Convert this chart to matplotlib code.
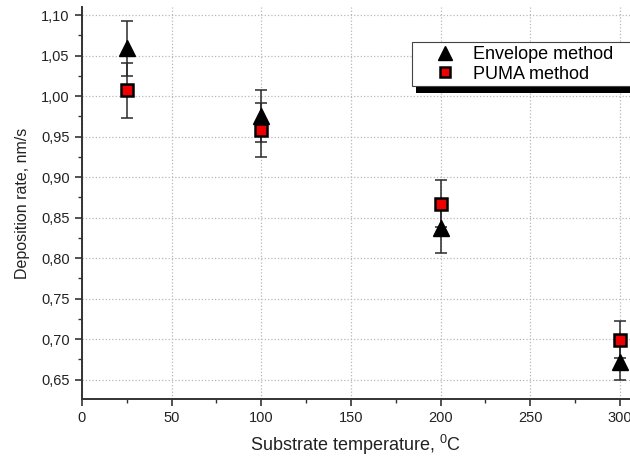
"""Deposition rate vs substrate temperature, envelope vs PUMA method."""

import matplotlib
matplotlib.use('Agg')
import matplotlib.pyplot as plt
from matplotlib.patches import Rectangle
from matplotlib.ticker import MultipleLocator, FuncFormatter

# data
temps = [25, 100, 200, 300]
envelope_rate = [1.059, 0.975, 0.837, 0.672]
envelope_err = [0.034, 0.032, 0.031, 0.023]
puma_rate = [1.007, 0.958, 0.867, 0.699]
puma_err = [0.034, 0.033, 0.029, 0.023]

plt.rcParams['font.family'] = ['Liberation Sans', 'DejaVu Sans']
plt.rcParams['mathtext.fontset'] = 'custom'
plt.rcParams['mathtext.rm'] = 'Liberation Sans'

W, H = 630, 457
fig = plt.figure(figsize=(W / 100, H / 100), dpi=100)
ax = fig.add_axes([82 / W, 1 - 399 / H, 1 - 82 / W, (399 - 7) / H])

axis_col = '#333333'
bar_col = '#2a2a2a'

ax.errorbar(temps, envelope_rate, yerr=envelope_err, fmt='none',
            ecolor=bar_col, elinewidth=1.1, capsize=4.5, capthick=1.1, zorder=3)
ax.errorbar(temps, puma_rate, yerr=puma_err, fmt='none',
            ecolor=bar_col, elinewidth=1.1, capsize=4.5, capthick=1.1, zorder=3)
ax.plot(temps, envelope_rate, linestyle='none', marker='^', markersize=11.5,
        color='black', label='Envelope method', zorder=4)
ax.plot(temps, puma_rate, linestyle='none', marker='s', markersize=9,
        markerfacecolor='#ee0000', markeredgecolor='black', markeredgewidth=1.8,
        label='PUMA method', zorder=5)

ax.set_xlim(0, 305.6)
ax.set_ylim(0.626, 1.1099)

ax.xaxis.set_major_locator(MultipleLocator(50))
ax.xaxis.set_minor_locator(MultipleLocator(25))
ax.yaxis.set_major_locator(MultipleLocator(0.05))
ax.yaxis.set_minor_locator(MultipleLocator(0.025))
ax.yaxis.set_major_formatter(FuncFormatter(lambda v, p: f'{v:.2f}'.replace('.', ',')))

for side in ['top', 'right']:
    ax.spines[side].set_visible(False)
for side in ['left', 'bottom']:
    ax.spines[side].set_color(axis_col)
    ax.spines[side].set_linewidth(1.4)

ax.tick_params(which='major', direction='out', length=5, width=1.2,
               color=axis_col, labelsize=10.5, pad=4, labelcolor='#222222')
ax.tick_params(which='minor', direction='out', length=3, width=1.0, color=axis_col)

ax.grid(True, which='major', linestyle=':', color='#b8b8b8', linewidth=0.9)
ax.set_axisbelow(True)

ax.set_xlabel(r'Substrate temperature, $^{\mathregular{0}}$C', fontsize=13,
              color='#222222', labelpad=5)
ax.set_ylabel('Deposition rate, nm/s', fontsize=11.5, color='#222222', labelpad=8)

leg = ax.legend(loc='upper left', bbox_to_anchor=(412 / W, 1 - 47 / H, 0.6, 0.01),
                bbox_transform=fig.transFigure, mode='expand', fontsize=13,
                frameon=True, fancybox=False, borderpad=0.2, labelspacing=0.15,
                handlelength=3.2, handletextpad=0.0, borderaxespad=0,
                markerscale=0.85, framealpha=1.0)
leg.get_frame().set_edgecolor('#444444')
leg.get_frame().set_linewidth(0.8)
leg.set_zorder(6)

# solid black drop shadow under the legend box
ax.add_patch(Rectangle((416 / W, 1 - 93 / H), 0.6, 40 / H, transform=fig.transFigure,
                       facecolor='black', edgecolor='none', clip_on=False, zorder=5.5))

fig.savefig('out.png', dpi=100)
